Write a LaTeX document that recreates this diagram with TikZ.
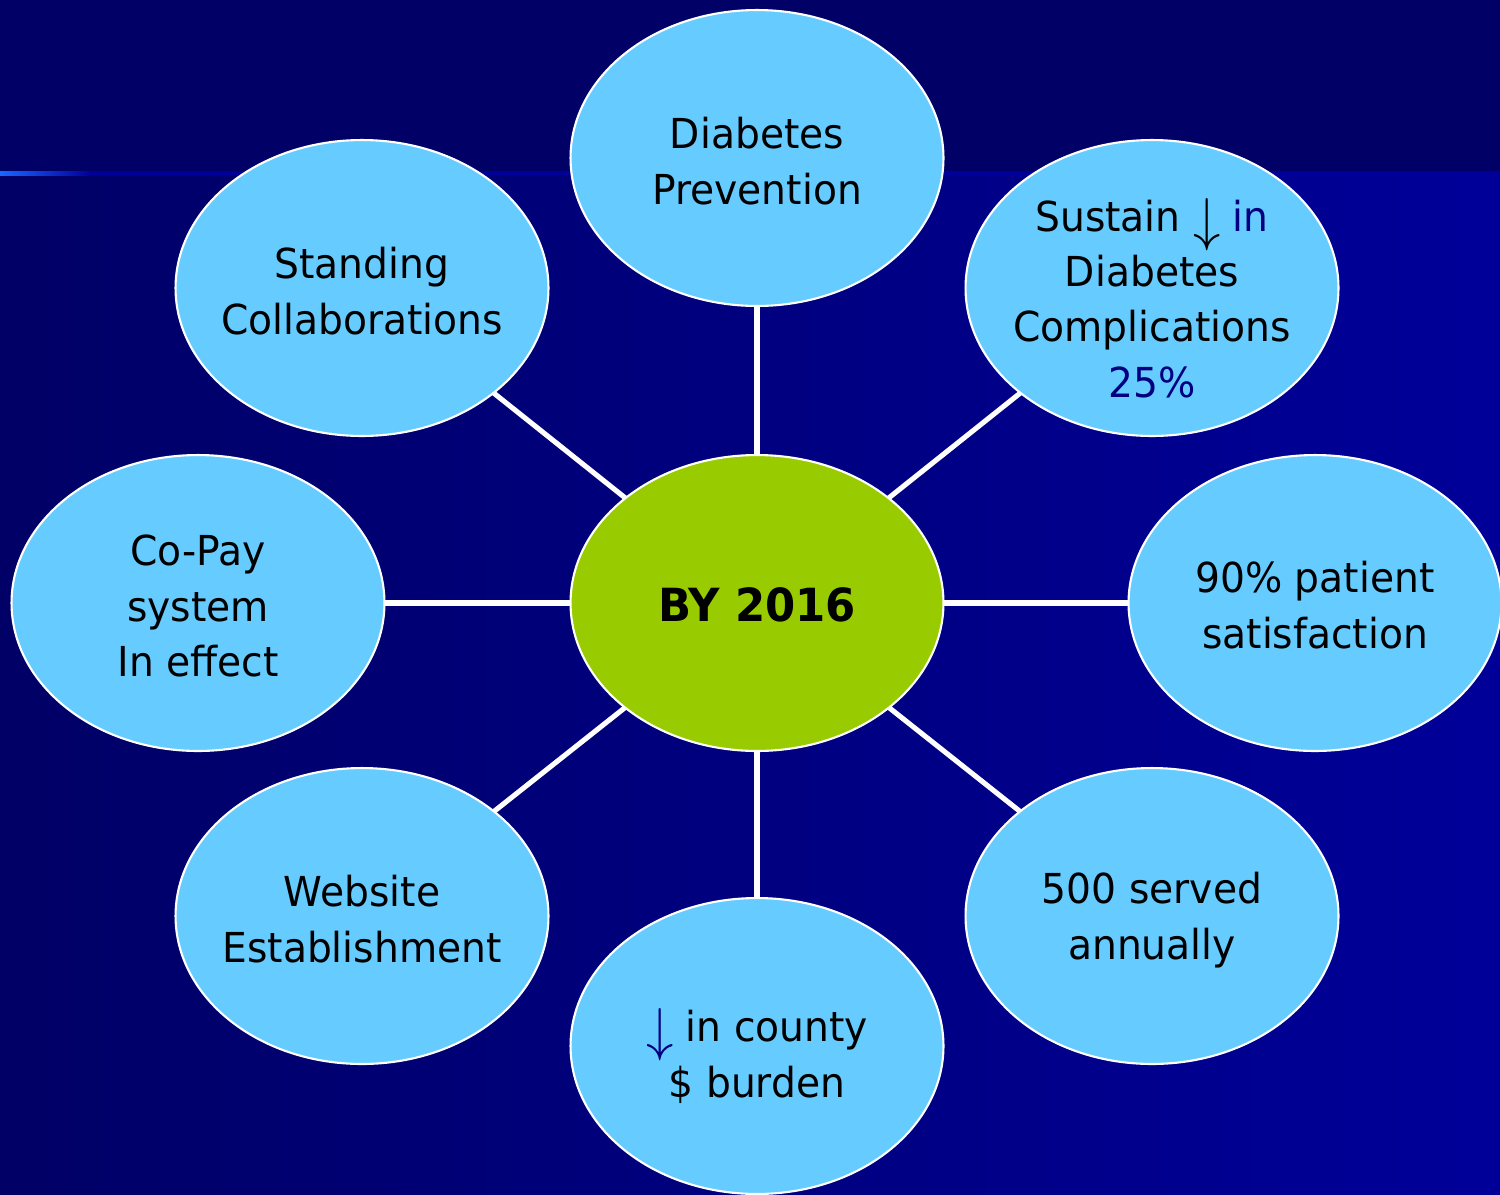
\documentclass[tikz,border=0pt]{standalone}
\usepackage{fontspec}
\setmainfont{DejaVu Sans}[FakeStretch=0.95]
\usetikzlibrary{shapes.geometric}
\definecolor{bgtop}{HTML}{000066}
\definecolor{bgright}{HTML}{000099}
\definecolor{bubblecol}{HTML}{66CCFF}
\definecolor{hubcol}{HTML}{99CC00}
\definecolor{navy}{HTML}{000080}
\definecolor{bright}{HTML}{1A66FF}
\newcommand{\darr}{\raisebox{-0.2em}{\scalebox{1.25}[1.35]{$\downarrow$}}}
\begin{document}
\begin{tikzpicture}[x=0.02cm,y=-0.02cm,
  bubble/.style={ellipse, draw=white, line width=1.2pt, fill=bubblecol,
    minimum width=7.46cm, minimum height=5.92cm, inner sep=0pt, outer sep=0pt},
  txt/.style={align=center, font=\fontsize{23.5}{31.5}\selectfont, text=black, inner sep=0pt},
  link/.style={white, line width=2.9pt}]
\useasboundingbox (0,0) rectangle (1500,1194);
\shade[left color=bgtop, right color=bgright] (0,0) rectangle (1500,1194);
\fill[bgtop] (0,0) rectangle (1500,174);
\fill[bgright] (90,171) rectangle (1500,175);
\shade[left color=bright, right color=bgright] (0,171) rectangle (90,175);

\node[bubble, fill=hubcol] (hub) at (757,603) {};
\node[bubble] (top) at (757,158) {};
\node[bubble] (tr) at (1152,288) {};
\node[bubble] (rt) at (1315,603) {};
\node[bubble] (br) at (1152,916) {};
\node[bubble] (bt) at (757,1046) {};
\node[bubble] (bl) at (362,916) {};
\node[bubble] (lf) at (198,603) {};
\node[bubble] (tl) at (362,288) {};

\foreach \n in {top,tr,rt,br,bt,bl,lf,tl} \draw[link] (hub) -- (\n);

\node[txt, font=\fontsize{26}{31.5}\selectfont\bfseries] (hubt) at (757,605) {BY 2016};
\node[txt] (topt) at (757,161) {Diabetes\\Prevention};
\node[txt] (trt) at (1152,298) {Sustain \darr{} \textcolor{navy}{in}\\Diabetes\\Complications\\\textcolor{navy}{25\%}};
\node[txt] (rtt) at (1315,605) {90\% patient\\satisfaction};
\node[txt] (brt) at (1152,920) {500 served\\annually};
\node[txt] (btt) at (757,1056) {\textcolor{navy}{\darr} in county\\\$ burden};
\node[txt] (blt) at (362,919) {Website\\Establishment};
\node[txt] (lft) at (198,606) {Co-Pay\\system\\In effect};
\node[txt] (tlt) at (362,291) {Standing\\Collaborations};
\end{tikzpicture}
\end{document}
